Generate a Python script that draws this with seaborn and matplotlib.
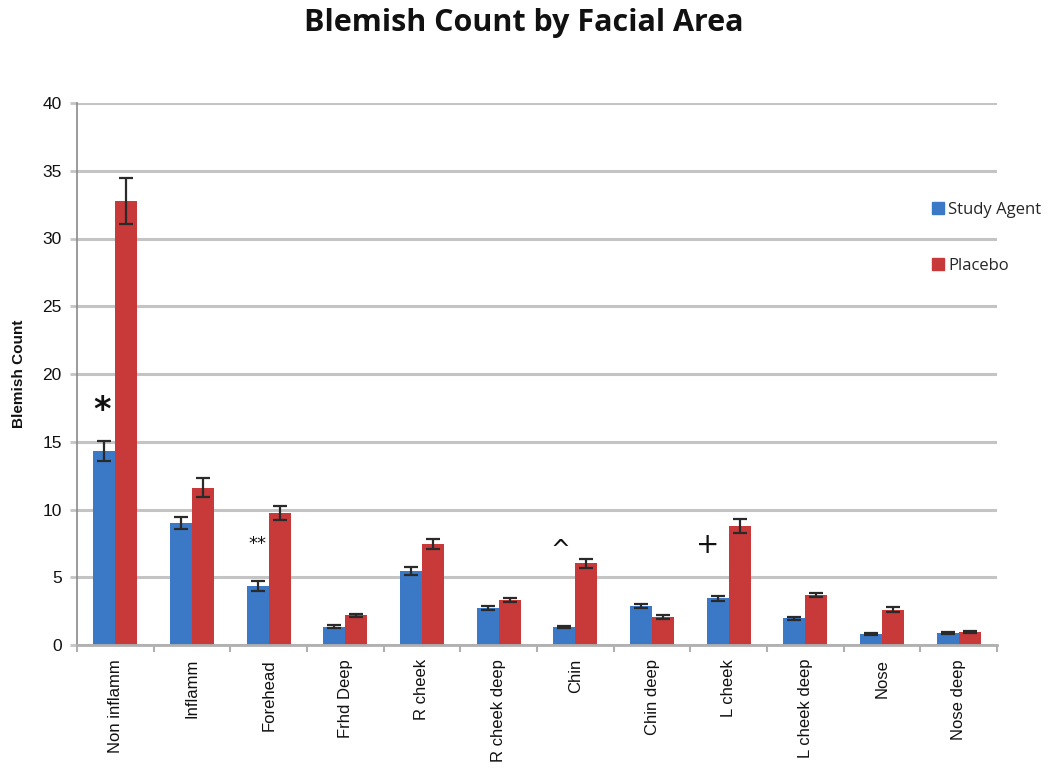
import matplotlib
matplotlib.use("Agg")
import matplotlib.pyplot as plt
from matplotlib.lines import Line2D
from matplotlib.ticker import FixedLocator, MultipleLocator
import seaborn as sns
import pandas as pd
import numpy as np

areas = ["Non inflamm", "Inflamm", "Forehead", "Frhd Deep", "R cheek", "R cheek deep",
         "Chin", "Chin deep", "L cheek", "L cheek deep", "Nose", "Nose deep"]
groups = ["Study Agent", "Placebo"]
study_agent = [14.3, 9.0, 4.35, 1.35, 5.45, 2.7, 1.35, 2.88, 3.45, 1.97, 0.81, 0.86]
study_err = [0.75, 0.45, 0.35, 0.1, 0.28, 0.15, 0.08, 0.15, 0.2, 0.1, 0.08, 0.08]
placebo = [32.8, 11.6, 9.75, 2.2, 7.45, 3.32, 6.03, 2.04, 8.78, 3.69, 2.6, 0.98]
placebo_err = [1.7, 0.7, 0.5, 0.12, 0.4, 0.15, 0.35, 0.15, 0.55, 0.15, 0.2, 0.08]
marks = ["*", "**", "^", "+"]
mark_areas = ["Non inflamm", "Forehead", "Chin", "L cheek"]
mark_y = [17.3, 7.45, 7.0, 7.4]

colors = ["#3B78C6", "#C8393A"]

sns.set_theme(style="white")
plt.rcParams["font.family"] = ["Liberation Sans", "DejaVu Sans"]

df = pd.DataFrame({
    "area": areas * 2,
    "group": [groups[0]] * len(areas) + [groups[1]] * len(areas),
    "value": study_agent + placebo,
})

fig = plt.figure(figsize=(10.58, 7.84), dpi=100)
ax = fig.add_axes([77 / 1058, 1 - 645 / 784, (997 - 77) / 1058, (645 - 103) / 784])

sns.barplot(data=df, x="area", y="value", hue="group", order=areas, hue_order=groups,
            palette=colors, width=0.57, errorbar=None, ax=ax, legend=False,
            saturation=1, linewidth=0)

errs = [study_err, placebo_err]
for cont, err in zip(ax.containers, errs):
    xs = [b.get_x() + b.get_width() / 2 for b in cont]
    ys = [b.get_height() for b in cont]
    ax.errorbar(xs, ys, yerr=err, fmt="none", ecolor="#2a2a2a", elinewidth=1.6,
                capsize=5, capthick=1.6, zorder=5)

# annotations
offsets = {"*": -0.17, "**": -0.15, "^": -0.19, "+": -0.27}
sizes = {"*": 24, "**": 13, "^": 17, "+": 20}
weights = {"*": "bold", "**": "normal", "^": "normal", "+": "normal"}
for m, a, y in zip(marks, mark_areas, mark_y):
    i = areas.index(a)
    ax.text(i + offsets[m], y, m, ha="center", va="center", fontsize=sizes[m],
            color="#111111", fontfamily="DejaVu Sans", fontweight=weights[m])

ax.set_ylim(0, 40)
ax.set_xlim(-0.5, len(areas) - 0.5)
ax.yaxis.set_major_locator(MultipleLocator(5))
ax.grid(axis="y", color="#c4c4c4", linewidth=2.2)
ax.set_axisbelow(True)
for s in ["top", "right"]:
    ax.spines[s].set_visible(False)
ax.spines["left"].set_color("#8a8a8a")
ax.spines["bottom"].set_color("#b0b0b0")
ax.spines["bottom"].set_linewidth(2)
ax.spines["left"].set_linewidth(1.2)

ax.tick_params(axis="y", which="major", length=5, color="#c4c4c4", width=2,
               labelsize=12.5, pad=6, left=True)
ax.tick_params(axis="x", which="major", length=0, labelsize=12, pad=10,
               labelrotation=90, bottom=True)
ax.xaxis.set_minor_locator(FixedLocator(np.arange(-0.5, len(areas), 1.0)))
ax.tick_params(axis="x", which="minor", length=5, color="#b0b0b0", width=1.5, bottom=True)
for lbl in ax.get_xticklabels():
    lbl.set_color("#111111")
for lbl in ax.get_yticklabels():
    lbl.set_color("#111111")

ax.set_xlabel("")
ax.set_ylabel("Blemish Count", fontsize=11, fontweight="bold", labelpad=12, color="#111111")

fig.suptitle("Blemish Count by Facial Area", x=0.495, y=0.99, fontsize=22,
             fontweight="bold", fontfamily=["Open Sans", "DejaVu Sans"], color="#111111")

handles = [Line2D([0], [0], marker="s", linestyle="", markersize=8,
                  markerfacecolor=c, markeredgecolor=c) for c in colors]
fig.legend(handles, groups, loc="upper left", bbox_to_anchor=(918 / 1058, 1 - 187 / 784),
           frameon=False, labelspacing=2.4, handlelength=0.6, handletextpad=0.3,
           prop={"family": ["Open Sans", "DejaVu Sans"], "size": 12})

fig.savefig("out.png", dpi=100)
